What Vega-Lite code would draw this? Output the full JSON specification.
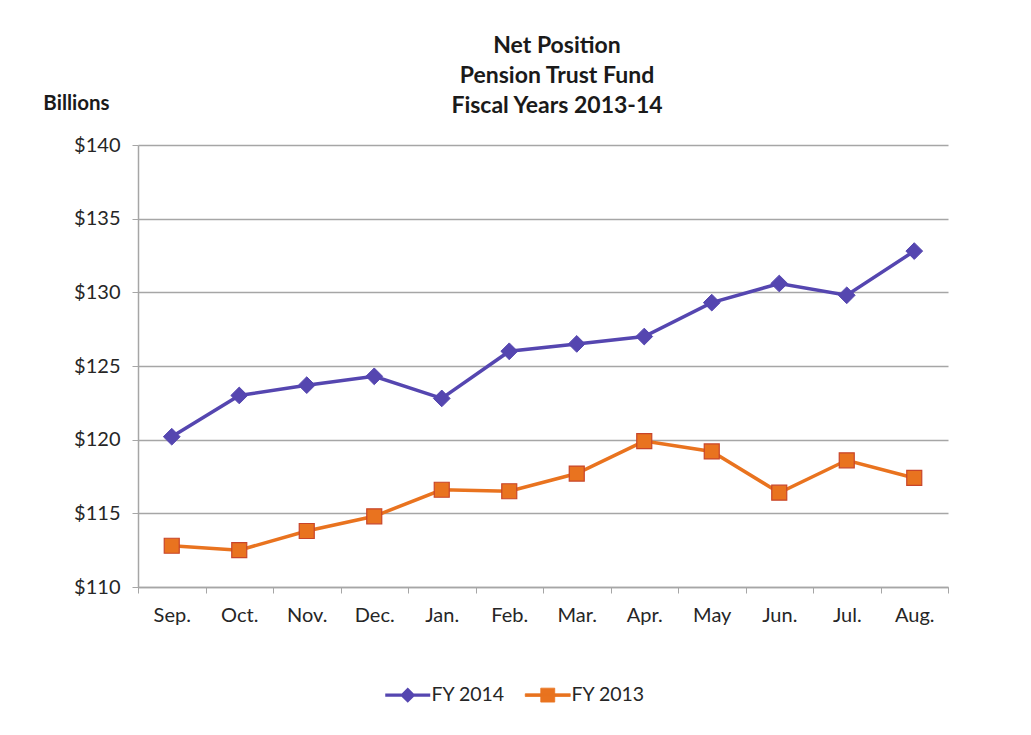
{
  "$schema": "https://vega.github.io/schema/vega-lite/v6.json",
  "autosize": "none",
  "width": 810,
  "height": 442,
  "padding": {"left": 138, "top": 145, "right": 83, "bottom": 148},
  "background": "white",
  "title": {
    "text": ["Net Position", "Pension Trust Fund", "Fiscal Years 2013-14"],
    "anchor": "middle",
    "dx": 14,
    "font": "Lato",
    "fontSize": 23,
    "fontWeight": "bold",
    "lineHeight": 30,
    "color": "#1a1a1a",
    "offset": -25
  },
  "data": {
    "values": [
      {"month": "Sep.", "series": "FY 2014", "value": 120.2},
      {"month": "Oct.", "series": "FY 2014", "value": 123.0},
      {"month": "Nov.", "series": "FY 2014", "value": 123.7},
      {"month": "Dec.", "series": "FY 2014", "value": 124.3},
      {"month": "Jan.", "series": "FY 2014", "value": 122.8},
      {"month": "Feb.", "series": "FY 2014", "value": 126.0},
      {"month": "Mar.", "series": "FY 2014", "value": 126.5},
      {"month": "Apr.", "series": "FY 2014", "value": 127.0},
      {"month": "May", "series": "FY 2014", "value": 129.3},
      {"month": "Jun.", "series": "FY 2014", "value": 130.6},
      {"month": "Jul.", "series": "FY 2014", "value": 129.8},
      {"month": "Aug.", "series": "FY 2014", "value": 132.8},
      {"month": "Sep.", "series": "FY 2013", "value": 112.8},
      {"month": "Oct.", "series": "FY 2013", "value": 112.5},
      {"month": "Nov.", "series": "FY 2013", "value": 113.8},
      {"month": "Dec.", "series": "FY 2013", "value": 114.8},
      {"month": "Jan.", "series": "FY 2013", "value": 116.6},
      {"month": "Feb.", "series": "FY 2013", "value": 116.5},
      {"month": "Mar.", "series": "FY 2013", "value": 117.7},
      {"month": "Apr.", "series": "FY 2013", "value": 119.9},
      {"month": "May", "series": "FY 2013", "value": 119.2},
      {"month": "Jun.", "series": "FY 2013", "value": 116.4},
      {"month": "Jul.", "series": "FY 2013", "value": 118.6},
      {"month": "Aug.", "series": "FY 2013", "value": 117.4}
    ]
  },
  "encoding": {
    "x": {
      "field": "month",
      "type": "nominal",
      "sort": ["Sep.", "Oct.", "Nov.", "Dec.", "Jan.", "Feb.", "Mar.", "Apr.", "May", "Jun.", "Jul.", "Aug."],
      "scale": {"type": "band", "paddingInner": 0, "paddingOuter": 0},
      "axis": {
        "title": null,
        "labelAngle": 0,
        "tickBand": "extent",
        "grid": false,
        "domainColor": "#a6a6a6",
        "domainWidth": 1.5,
        "tickColor": "#a6a6a6",
        "tickSize": 6,
        "labelFont": "Lato",
        "labelFontSize": 20,
        "labelColor": "#262626",
        "labelPadding": 12
      }
    },
    "y": {
      "field": "value",
      "type": "quantitative",
      "scale": {"domain": [110, 140], "nice": false, "zero": false},
      "axis": {
        "values": [110, 115, 120, 125, 130, 135, 140],
        "labelExpr": "'$' + datum.value",
        "title": "Billions",
        "titleAngle": 0,
        "titleAlign": "center",
        "titleBaseline": "middle",
        "titleX": -62,
        "titleY": -42,
        "titleFont": "Lato",
        "titleFontSize": 20.5,
        "titleFontWeight": "bold",
        "titleColor": "#1a1a1a",
        "grid": true,
        "gridColor": "#a6a6a6",
        "gridWidth": 1.5,
        "domainColor": "#a6a6a6",
        "domainWidth": 1.5,
        "tickColor": "#a6a6a6",
        "tickSize": 6,
        "labelFont": "Lato",
        "labelFontSize": 20,
        "labelColor": "#262626",
        "labelPadding": 12
      }
    },
    "color": {
      "field": "series",
      "type": "nominal",
      "scale": {"domain": ["FY 2014", "FY 2013"], "range": ["#5546b0", "#e9731f"]},
      "legend": {
        "title": null,
        "orient": "none",
        "direction": "horizontal",
        "legendX": 260,
        "legendY": 540,
        "symbolSize": 2025,
        "labelFont": "Lato",
        "labelFontSize": 19.5,
        "labelColor": "#262626",
        "labelOffset": 14,
        "columnPadding": 18,
        "encode": {
          "symbols": {
            "update": {
              "shape": {"signal": "datum.value === 'FY 2014' ? 'M-1,-0.07H1V0.07H-1Z M0,-0.34L0.34,0L0,0.34L-0.34,0Z' : 'M-1,-0.06H1V0.06H-1Z M-0.31,-0.31H0.31V0.31H-0.31Z'"},
              "fill": {"signal": "datum.value === 'FY 2014' ? '#5546b0' : '#e9731f'"},
              "stroke": {"signal": "datum.value === 'FY 2014' ? '#5546b0' : '#c8452a'"},
              "strokeWidth": {"signal": "datum.value === 'FY 2014' ? 0 : 0.8"},
              "opacity": {"value": 1},
              "fillOpacity": {"value": 1},
              "strokeOpacity": {"value": 1}
            }
          }
        }
      }
    }
  },
  "layer": [
    {
      "mark": {"type": "line", "strokeWidth": 3.5},
      "encoding": {"detail": {"field": "series"}}
    },
    {
      "transform": [{"filter": "datum.series === 'FY 2014'"}],
      "mark": {"type": "point", "shape": "diamond", "size": 280, "filled": true, "opacity": 1, "stroke": "#5546b0", "strokeWidth": 1}
    },
    {
      "transform": [{"filter": "datum.series === 'FY 2013'"}],
      "mark": {"type": "point", "shape": "square", "size": 225, "filled": true, "opacity": 1, "stroke": "#c8452a", "strokeWidth": 1.2}
    }
  ],
  "config": {
    "view": {"stroke": null}
  }
}
